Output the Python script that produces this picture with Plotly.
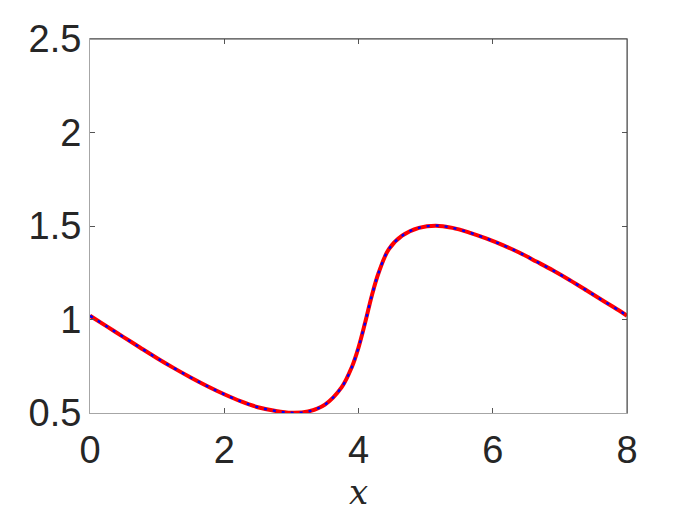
import plotly.graph_objects as go

x_vals = [0.0, 0.25, 0.5, 0.75, 1.0, 1.25, 1.5, 1.75, 2.0, 2.25, 2.5, 2.75, 3.0, 3.25,
          3.5, 3.75, 3.9, 4.0, 4.1, 4.2, 4.3, 4.45, 4.65, 4.9, 5.15, 5.4, 5.65, 5.9,
          6.15, 6.4, 6.65, 6.9, 7.15, 7.4, 7.65, 7.9, 8.0]
exact = [1.02, 0.963, 0.906, 0.849, 0.793, 0.740, 0.690, 0.643, 0.600, 0.562, 0.531,
         0.512, 0.501, 0.508, 0.545, 0.638, 0.745, 0.85, 0.985, 1.13, 1.25, 1.375,
         1.448, 1.49, 1.502, 1.49, 1.465, 1.434, 1.398, 1.357, 1.31, 1.262, 1.21,
         1.155, 1.099, 1.044, 1.02]
numerical = list(exact)

x_ticks = [0, 2, 4, 6, 8]
y_ticks = [0.5, 1, 1.5, 2, 2.5]
y_tick_text = ["0.5", "1", "1.5", "2", "2.5"]

fig = go.Figure()
fig.add_trace(
    go.Scatter(
        x=x_vals, y=exact, mode="lines", name="exact",
        line=dict(color="#FF0000", width=4, shape="spline", smoothing=1.0),
    )
)
fig.add_trace(
    go.Scatter(
        x=x_vals, y=numerical, mode="lines", name="numerical",
        line=dict(color="#0000FF", width=2.4, dash="3px,6px", shape="spline", smoothing=1.0),
    )
)

axis_common = dict(
    showgrid=False,
    zeroline=False,
    showline=True,
    linecolor="#a6a6a6",
    linewidth=1,
    mirror="ticks",
    ticks="inside",
    ticklen=5,
    tickcolor="#555555",
    automargin=False,
    tickfont=dict(family="Liberation Sans, Arial, sans-serif", size=38, color="#262626"),
)

fig.update_xaxes(range=[0, 8], tickvals=x_ticks, ticklabelstandoff=3, **axis_common)
fig.update_yaxes(range=[0.5, 2.5], tickvals=y_ticks, ticktext=y_tick_text,
                 ticklabelstandoff=0, **axis_common)

# x axis title
fig.add_annotation(
    text="<i>x</i>", xref="paper", yref="paper", x=0.5, y=0, yanchor="top",
    yshift=-57, showarrow=False,
    font=dict(family="DejaVu Serif, Liberation Serif, serif", size=34, color="#262626"),
)

# darker top and right box edges
fig.add_shape(type="line", xref="paper", yref="paper", x0=0, x1=1, y0=1, y1=1,
              line=dict(color="#404040", width=1))
fig.add_shape(type="line", xref="paper", yref="paper", x0=1, x1=1, y0=0, y1=1,
              line=dict(color="#404040", width=1))

# page body adds an 8px offset, so margins are shifted to compensate
fig.update_layout(
    width=692,
    height=519,
    margin=dict(l=82, r=73, t=31, b=114),
    paper_bgcolor="white",
    plot_bgcolor="white",
    showlegend=False,
)

fig.write_html("out.html")
